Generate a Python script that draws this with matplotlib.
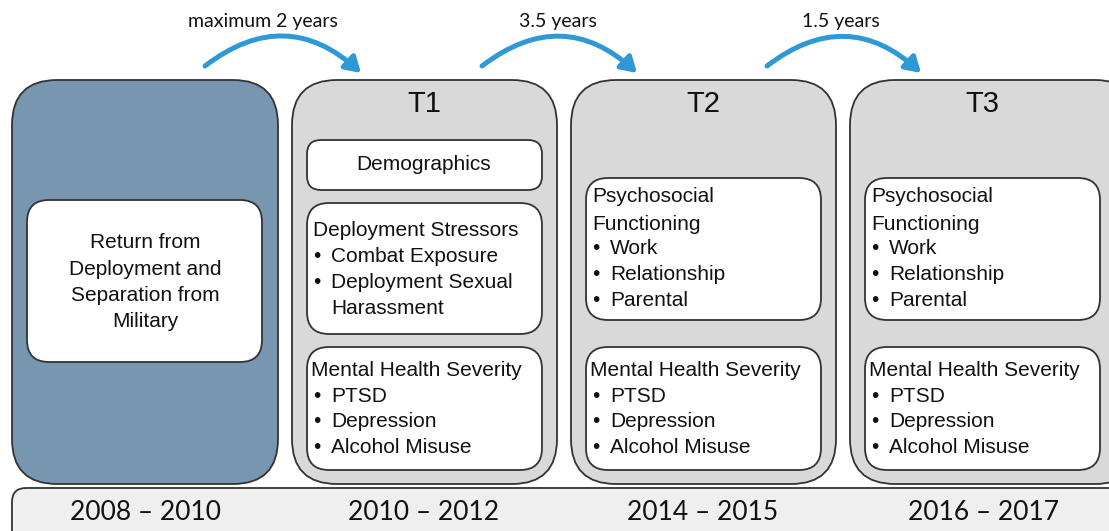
import matplotlib
matplotlib.use("Agg")
import matplotlib.pyplot as plt
from matplotlib.patches import FancyBboxPatch

# ---- content ----
periods = ["2008 – 2010", "2010 – 2012", "2014 – 2015", "2016 – 2017"]
wave_titles = ["T1", "T2", "T3"]
intervals = ["maximum 2 years", "3.5 years", "1.5 years"]
baseline_text = ["Return from", "Deployment and", "Separation from", "Military"]
t1_demo = "Demographics"
t1_stress_head = ["Deployment Stressors"]
t1_stress_items = ["Combat Exposure", "Deployment Sexual"]
t1_stress_cont = "Harassment"
psych_head = ["Psychosocial", "Functioning"]
psych_items = ["Work", "Relationship", "Parental"]
mh_head = ["Mental Health Severity"]
mh_items = ["PTSD", "Depression", "Alcohol Misuse"]

BLUE = "#7896b0"
GRAY = "#d9d9d9"
BAR = "#efefef"
EDGE = "#333333"
ARROW = "#2e99d6"
BODY_FONT = ["Liberation Sans", "DejaVu Sans"]
CAL_FONT = ["Lato", "DejaVu Sans"]

fig = plt.figure(figsize=(11.09, 5.31), dpi=100)
ax = fig.add_axes([0, 0, 1, 1])
ax.set_xlim(0, 1109)
ax.set_ylim(531, 0)
ax.axis("off")


def rbox(x0, y0, x1, y1, r, fc, lw=1.3, z=1):
    p = FancyBboxPatch((x0, y0), x1 - x0, y1 - y0,
                       boxstyle=f"round,pad=0,rounding_size={r}",
                       fc=fc, ec=EDGE, lw=lw, zorder=z)
    ax.add_patch(p)


BS = 15  # body font size


def txt(x, y, s, size=BS, ha="left", fam=BODY_FONT, z=5):
    ax.text(x, y, s, fontsize=size, ha=ha, va="center", family=fam,
            color="#111111", zorder=z)


def bullets(x, y0, items, step=25.7):
    y = y0
    for it in items:
        txt(x, y, "•")
        txt(x + 18, y, it)
        y += step
    return y


# bottom bar
rbox(12, 488, 1125, 545, 14, BAR, z=0)
col_centers = [145, 424, 703, 983]
for cx, p in zip(col_centers, periods):
    txt(cx, 513, p, size=19, ha="center", fam=CAL_FONT)

# baseline blue column
rbox(12, 80, 278, 484, 45, BLUE)
rbox(27, 200, 262, 362, 22, "white", z=2)
for i, s in enumerate(baseline_text):
    txt(145, 243 + i * 26.3, s, ha="center")

# wave columns
col_x = [292, 571, 850]
for k, (x0, title) in enumerate(zip(col_x, wave_titles)):
    x1 = x0 + 265
    rbox(x0, 80, x1 + (25 if k == 2 else 0), 484, 45, GRAY)
    txt(x0 + 132, 104, title, size=21, ha="center")
    ix0, ix1 = x0 + 15, x0 + 250
    tx = x0 + 21
    if k == 0:
        rbox(ix0, 140, ix1, 190, 14, "white", z=2)
        txt(x0 + 132, 165, t1_demo, ha="center")
        rbox(ix0, 203, ix1, 334, 22, "white", z=2)
        txt(tx, 230, t1_stress_head[0])
        bullets(tx, 256, t1_stress_items, step=26)
        txt(tx + 18, 308, t1_stress_cont)
    else:
        rbox(ix0, 178, ix1, 320, 22, "white", z=2)
        txt(tx, 197, psych_head[0])
        txt(tx, 224, psych_head[1])
        bullets(tx, 249, psych_items)
    rbox(ix0, 347, ix1, 470, 22, "white", z=2)
    txt(tx - 2, 370, mh_head[0])
    bullets(tx, 396, mh_items)

# interval arrows
arrows = [((205, 66), (361, 73)), ((482, 66), (637, 73)), ((767, 66), (921, 73))]
label_x = [263, 558, 841]
for ((xs, ys), (xe, ye)), lab, lx in zip(arrows, intervals, label_x):
    ax.annotate("", xy=(xe, ye), xytext=(xs, ys),
                arrowprops=dict(arrowstyle="-|>,head_length=0.9,head_width=0.55",
                                connectionstyle="arc3,rad=-0.42",
                                color=ARROW, lw=3.6, shrinkA=0, shrinkB=0),
                zorder=6)
    txt(lx, 21, lab, size=14, ha="center", fam=CAL_FONT)

fig.savefig("out.png", dpi=100, facecolor="white")
